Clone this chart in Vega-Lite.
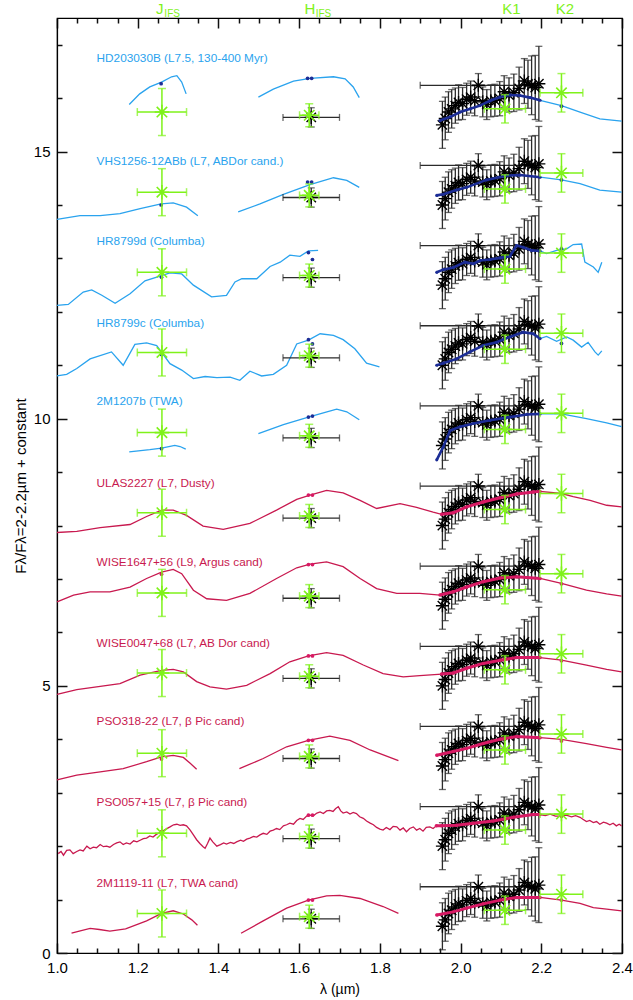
{
  "$schema": "https://vega.github.io/schema/vega-lite/v6.json",
  "width": 565,
  "height": 935,
  "autosize": {"type": "none"},
  "padding": {"left": 57, "top": 18, "right": 11, "bottom": 47},
  "background": "white",
  "config": {
    "view": {"stroke": "#000", "strokeWidth": 1.2},
    "font": "Liberation Sans",
    "text": {"font": "Liberation Sans"},
    "axis": {"grid": false, "labelFont": "Liberation Sans", "titleFont": "Liberation Sans", "domainColor": "#000", "tickColor": "#111", "labelColor": "#000", "titleColor": "#000", "titleFontWeight": "normal", "domainWidth": 1.2, "tickWidth": 1.5}
  },
  "datasets": {
    "model": [
      {"o":"HD","s":"J","g":"c","x":1.179,"y":15.88},{"o":"HD","s":"J","g":"c","x":1.205,"y":16.08},{"o":"HD","s":"J","g":"c","x":1.23,"y":16.21},{"o":"HD","s":"J","g":"c","x":1.259,"y":16.3},{"o":"HD","s":"J","g":"c","x":1.284,"y":16.4},{"o":"HD","s":"J","g":"c","x":1.297,"y":16.42},{"o":"HD","s":"J","g":"c","x":1.309,"y":16.3},{"o":"HD","s":"J","g":"c","x":1.32,"y":16.08},
      {"o":"HD","s":"H","g":"c","x":1.499,"y":16.02},{"o":"HD","s":"H","g":"c","x":1.536,"y":16.17},{"o":"HD","s":"H","g":"c","x":1.586,"y":16.32},{"o":"HD","s":"H","g":"c","x":1.627,"y":16.37},{"o":"HD","s":"H","g":"c","x":1.685,"y":16.4},{"o":"HD","s":"H","g":"c","x":1.714,"y":16.36},{"o":"HD","s":"H","g":"c","x":1.734,"y":16.21},{"o":"HD","s":"H","g":"c","x":1.749,"y":16.01},
      {"o":"HD","s":"K","g":"c","x":1.949,"y":15.58},{"o":"HD","s":"K","g":"c","x":1.975,"y":15.65},{"o":"HD","s":"K","g":"c","x":1.999,"y":15.74},{"o":"HD","s":"K","g":"c","x":2.024,"y":15.8},{"o":"HD","s":"K","g":"c","x":2.048,"y":15.86},{"o":"HD","s":"K","g":"c","x":2.073,"y":15.95},{"o":"HD","s":"K","g":"c","x":2.098,"y":16.02},{"o":"HD","s":"K","g":"c","x":2.122,"y":16.06},{"o":"HD","s":"K","g":"c","x":2.147,"y":16.05},{"o":"HD","s":"K","g":"c","x":2.172,"y":16.01},{"o":"HD","s":"K","g":"c","x":2.197,"y":15.96},{"o":"HD","s":"K","g":"c","x":2.25,"y":15.86},{"o":"HD","s":"K","g":"c","x":2.296,"y":15.74},{"o":"HD","s":"K","g":"c","x":2.345,"y":15.61},{"o":"HD","s":"K","g":"c","x":2.399,"y":15.57},
      {"o":"VHS","s":"J","g":"c","x":1.0,"y":13.73},{"o":"VHS","s":"J","g":"c","x":1.057,"y":13.8},{"o":"VHS","s":"J","g":"c","x":1.107,"y":13.8},{"o":"VHS","s":"J","g":"c","x":1.156,"y":13.84},{"o":"VHS","s":"J","g":"c","x":1.206,"y":13.93},{"o":"VHS","s":"J","g":"c","x":1.258,"y":14.02},{"o":"VHS","s":"J","g":"c","x":1.288,"y":14.04},{"o":"VHS","s":"J","g":"c","x":1.321,"y":13.96},{"o":"VHS","s":"J","g":"c","x":1.349,"y":13.8},
      {"o":"VHS","s":"H","g":"c","x":1.449,"y":13.87},{"o":"VHS","s":"H","g":"c","x":1.503,"y":14.02},{"o":"VHS","s":"H","g":"c","x":1.561,"y":14.2},{"o":"VHS","s":"H","g":"c","x":1.627,"y":14.38},{"o":"VHS","s":"H","g":"c","x":1.685,"y":14.51},{"o":"VHS","s":"H","g":"c","x":1.718,"y":14.46},{"o":"VHS","s":"H","g":"c","x":1.749,"y":14.33},
      {"o":"VHS","s":"K","g":"c","x":1.941,"y":14.18},{"o":"VHS","s":"K","g":"c","x":1.957,"y":14.2},{"o":"VHS","s":"K","g":"c","x":1.99,"y":14.28},{"o":"VHS","s":"K","g":"c","x":2.015,"y":14.33},{"o":"VHS","s":"K","g":"c","x":2.064,"y":14.47},{"o":"VHS","s":"K","g":"c","x":2.114,"y":14.55},{"o":"VHS","s":"K","g":"c","x":2.147,"y":14.56},{"o":"VHS","s":"K","g":"c","x":2.197,"y":14.52},{"o":"VHS","s":"K","g":"c","x":2.25,"y":14.47},{"o":"VHS","s":"K","g":"c","x":2.296,"y":14.4},{"o":"VHS","s":"K","g":"c","x":2.345,"y":14.28},{"o":"VHS","s":"K","g":"c","x":2.399,"y":14.24},
      {"o":"HRd","s":"A","g":"c","x":1.0,"y":12.12},{"o":"HRd","s":"A","g":"c","x":1.028,"y":12.14},{"o":"HRd","s":"A","g":"c","x":1.065,"y":12.37},{"o":"HRd","s":"A","g":"c","x":1.086,"y":12.41},{"o":"HRd","s":"A","g":"c","x":1.111,"y":12.31},{"o":"HRd","s":"A","g":"c","x":1.144,"y":12.16},{"o":"HRd","s":"A","g":"c","x":1.181,"y":12.34},{"o":"HRd","s":"A","g":"c","x":1.218,"y":12.58},{"o":"HRd","s":"A","g":"c","x":1.259,"y":12.68},{"o":"HRd","s":"A","g":"c","x":1.28,"y":12.73},{"o":"HRd","s":"A","g":"c","x":1.309,"y":12.71},{"o":"HRd","s":"A","g":"c","x":1.338,"y":12.5},{"o":"HRd","s":"A","g":"c","x":1.383,"y":12.28},{"o":"HRd","s":"A","g":"c","x":1.42,"y":12.31},{"o":"HRd","s":"A","g":"c","x":1.441,"y":12.56},{"o":"HRd","s":"A","g":"c","x":1.458,"y":12.62},{"o":"HRd","s":"A","g":"c","x":1.495,"y":12.62},{"o":"HRd","s":"A","g":"c","x":1.528,"y":12.85},{"o":"HRd","s":"A","g":"c","x":1.553,"y":12.93},{"o":"HRd","s":"A","g":"c","x":1.577,"y":13.06},{"o":"HRd","s":"A","g":"c","x":1.602,"y":13.04},{"o":"HRd","s":"A","g":"c","x":1.623,"y":13.14},{"o":"HRd","s":"A","g":"c","x":1.647,"y":13.15},
      {"o":"HRd","s":"K","g":"c","x":1.941,"y":12.74},{"o":"HRd","s":"K","g":"c","x":1.957,"y":12.79},{"o":"HRd","s":"K","g":"c","x":1.982,"y":12.83},{"o":"HRd","s":"K","g":"c","x":2.011,"y":12.93},{"o":"HRd","s":"K","g":"c","x":2.032,"y":12.9},{"o":"HRd","s":"K","g":"c","x":2.048,"y":12.96},{"o":"HRd","s":"K","g":"c","x":2.073,"y":12.98},{"o":"HRd","s":"K","g":"c","x":2.098,"y":13.01},{"o":"HRd","s":"K","g":"c","x":2.122,"y":13.04},{"o":"HRd","s":"K","g":"c","x":2.139,"y":13.24},{"o":"HRd","s":"K","g":"c","x":2.155,"y":13.21},{"o":"HRd","s":"K","g":"c","x":2.176,"y":13.15},{"o":"HRd","s":"K","g":"c","x":2.197,"y":13.14},{"o":"HRd","s":"K","g":"c","x":2.213,"y":13.09},{"o":"HRd","s":"K","g":"c","x":2.238,"y":13.15},{"o":"HRd","s":"K","g":"c","x":2.263,"y":13.18},{"o":"HRd","s":"K","g":"c","x":2.279,"y":13.26},{"o":"HRd","s":"K","g":"c","x":2.3,"y":13.27},{"o":"HRd","s":"K","g":"c","x":2.308,"y":12.93},{"o":"HRd","s":"K","g":"c","x":2.329,"y":12.84},{"o":"HRd","s":"K","g":"c","x":2.341,"y":12.74},{"o":"HRd","s":"K","g":"c","x":2.35,"y":12.93},
      {"o":"HRc","s":"A","g":"c","x":1.0,"y":10.8},{"o":"HRc","s":"A","g":"c","x":1.024,"y":10.83},{"o":"HRc","s":"A","g":"c","x":1.049,"y":10.94},{"o":"HRc","s":"A","g":"c","x":1.082,"y":11.12},{"o":"HRc","s":"A","g":"c","x":1.135,"y":11.25},{"o":"HRc","s":"A","g":"c","x":1.164,"y":11.0},{"o":"HRc","s":"A","g":"c","x":1.193,"y":11.39},{"o":"HRc","s":"A","g":"c","x":1.222,"y":11.42},{"o":"HRc","s":"A","g":"c","x":1.247,"y":11.37},{"o":"HRc","s":"A","g":"c","x":1.28,"y":11.03},{"o":"HRc","s":"A","g":"c","x":1.309,"y":10.91},{"o":"HRc","s":"A","g":"c","x":1.338,"y":10.75},{"o":"HRc","s":"A","g":"c","x":1.367,"y":10.79},{"o":"HRc","s":"A","g":"c","x":1.396,"y":10.77},{"o":"HRc","s":"A","g":"c","x":1.429,"y":10.78},{"o":"HRc","s":"A","g":"c","x":1.453,"y":10.72},{"o":"HRc","s":"A","g":"c","x":1.478,"y":10.89},{"o":"HRc","s":"A","g":"c","x":1.507,"y":10.8},{"o":"HRc","s":"A","g":"c","x":1.536,"y":10.83},{"o":"HRc","s":"A","g":"c","x":1.569,"y":11.0},{"o":"HRc","s":"A","g":"c","x":1.594,"y":11.4},{"o":"HRc","s":"A","g":"c","x":1.623,"y":11.47},{"o":"HRc","s":"A","g":"c","x":1.652,"y":11.59},{"o":"HRc","s":"A","g":"c","x":1.685,"y":11.56},{"o":"HRc","s":"A","g":"c","x":1.709,"y":11.48},{"o":"HRc","s":"A","g":"c","x":1.738,"y":11.31},{"o":"HRc","s":"A","g":"c","x":1.767,"y":11.04},{"o":"HRc","s":"A","g":"c","x":1.799,"y":10.97},
      {"o":"HRc","s":"K","g":"c","x":1.941,"y":11.0},{"o":"HRc","s":"K","g":"c","x":1.957,"y":11.04},{"o":"HRc","s":"K","g":"c","x":1.99,"y":11.12},{"o":"HRc","s":"K","g":"c","x":2.023,"y":11.25},{"o":"HRc","s":"K","g":"c","x":2.056,"y":11.37},{"o":"HRc","s":"K","g":"c","x":2.089,"y":11.43},{"o":"HRc","s":"K","g":"c","x":2.122,"y":11.53},{"o":"HRc","s":"K","g":"c","x":2.155,"y":11.62},{"o":"HRc","s":"K","g":"c","x":2.18,"y":11.59},{"o":"HRc","s":"K","g":"c","x":2.197,"y":11.5},{"o":"HRc","s":"K","g":"c","x":2.213,"y":11.54},{"o":"HRc","s":"K","g":"c","x":2.238,"y":11.45},{"o":"HRc","s":"K","g":"c","x":2.263,"y":11.53},{"o":"HRc","s":"K","g":"c","x":2.279,"y":11.47},{"o":"HRc","s":"K","g":"c","x":2.3,"y":11.34},{"o":"HRc","s":"K","g":"c","x":2.316,"y":11.43},{"o":"HRc","s":"K","g":"c","x":2.333,"y":11.25},{"o":"HRc","s":"K","g":"c","x":2.341,"y":11.19},{"o":"HRc","s":"K","g":"c","x":2.35,"y":11.27},
      {"o":"M1207","s":"J","g":"c","x":1.179,"y":9.38},{"o":"M1207","s":"J","g":"c","x":1.23,"y":9.42},{"o":"M1207","s":"J","g":"c","x":1.259,"y":9.45},{"o":"M1207","s":"J","g":"c","x":1.292,"y":9.5},{"o":"M1207","s":"J","g":"c","x":1.305,"y":9.48},{"o":"M1207","s":"J","g":"c","x":1.319,"y":9.43},
      {"o":"M1207","s":"H","g":"c","x":1.499,"y":9.72},{"o":"M1207","s":"H","g":"c","x":1.561,"y":9.89},{"o":"M1207","s":"H","g":"c","x":1.623,"y":10.03},{"o":"M1207","s":"H","g":"c","x":1.66,"y":10.11},{"o":"M1207","s":"H","g":"c","x":1.693,"y":10.18},{"o":"M1207","s":"H","g":"c","x":1.718,"y":10.13},{"o":"M1207","s":"H","g":"c","x":1.749,"y":9.98},
      {"o":"M1207","s":"K","g":"c","x":1.941,"y":9.23},{"o":"M1207","s":"K","g":"c","x":1.957,"y":9.47},{"o":"M1207","s":"K","g":"c","x":1.974,"y":9.78},{"o":"M1207","s":"K","g":"c","x":1.999,"y":9.85},{"o":"M1207","s":"K","g":"c","x":2.032,"y":9.91},{"o":"M1207","s":"K","g":"c","x":2.073,"y":9.97},{"o":"M1207","s":"K","g":"c","x":2.122,"y":10.03},{"o":"M1207","s":"K","g":"c","x":2.164,"y":10.08},{"o":"M1207","s":"K","g":"c","x":2.197,"y":10.09},{"o":"M1207","s":"K","g":"c","x":2.25,"y":10.09},{"o":"M1207","s":"K","g":"c","x":2.312,"y":10.0},{"o":"M1207","s":"K","g":"c","x":2.362,"y":9.92},{"o":"M1207","s":"K","g":"c","x":2.399,"y":9.85},
      {"o":"ULAS","s":"A","g":"f","x":1.0,"y":7.87},{"o":"ULAS","s":"A","g":"f","x":1.049,"y":7.89},{"o":"ULAS","s":"A","g":"f","x":1.107,"y":7.96},{"o":"ULAS","s":"A","g":"f","x":1.181,"y":8.02},{"o":"ULAS","s":"A","g":"f","x":1.222,"y":8.17},{"o":"ULAS","s":"A","g":"f","x":1.259,"y":8.29},{"o":"ULAS","s":"A","g":"f","x":1.288,"y":8.29},{"o":"ULAS","s":"A","g":"f","x":1.321,"y":8.19},{"o":"ULAS","s":"A","g":"f","x":1.362,"y":7.99},{"o":"ULAS","s":"A","g":"f","x":1.412,"y":7.93},{"o":"ULAS","s":"A","g":"f","x":1.478,"y":8.04},{"o":"ULAS","s":"A","g":"f","x":1.544,"y":8.29},{"o":"ULAS","s":"A","g":"f","x":1.594,"y":8.49},{"o":"ULAS","s":"A","g":"f","x":1.627,"y":8.57},{"o":"ULAS","s":"A","g":"f","x":1.668,"y":8.66},{"o":"ULAS","s":"A","g":"f","x":1.709,"y":8.61},{"o":"ULAS","s":"A","g":"f","x":1.751,"y":8.47},{"o":"ULAS","s":"A","g":"f","x":1.792,"y":8.32},{"o":"ULAS","s":"A","g":"f","x":1.85,"y":8.41},{"o":"ULAS","s":"A","g":"f","x":1.891,"y":8.34},{"o":"ULAS","s":"A","g":"f","x":1.932,"y":8.25},{"o":"ULAS","s":"A","g":"f","x":1.953,"y":8.21},{"o":"ULAS","s":"A","g":"f","x":1.982,"y":8.24},{"o":"ULAS","s":"A","g":"f","x":2.015,"y":8.35},{"o":"ULAS","s":"A","g":"f","x":2.056,"y":8.44},{"o":"ULAS","s":"A","g":"f","x":2.098,"y":8.52},{"o":"ULAS","s":"A","g":"f","x":2.139,"y":8.59},{"o":"ULAS","s":"A","g":"f","x":2.18,"y":8.63},{"o":"ULAS","s":"A","g":"f","x":2.197,"y":8.64},{"o":"ULAS","s":"A","g":"f","x":2.25,"y":8.6},{"o":"ULAS","s":"A","g":"f","x":2.279,"y":8.54},{"o":"ULAS","s":"A","g":"f","x":2.321,"y":8.47},{"o":"ULAS","s":"A","g":"f","x":2.362,"y":8.38},{"o":"ULAS","s":"A","g":"f","x":2.399,"y":8.35},
      {"o":"W1647","s":"A","g":"f","x":1.0,"y":6.57},{"o":"W1647","s":"A","g":"f","x":1.041,"y":6.7},{"o":"W1647","s":"A","g":"f","x":1.082,"y":6.76},{"o":"W1647","s":"A","g":"f","x":1.131,"y":6.76},{"o":"W1647","s":"A","g":"f","x":1.181,"y":6.85},{"o":"W1647","s":"A","g":"f","x":1.222,"y":7.01},{"o":"W1647","s":"A","g":"f","x":1.259,"y":7.13},{"o":"W1647","s":"A","g":"f","x":1.288,"y":7.18},{"o":"W1647","s":"A","g":"f","x":1.309,"y":7.1},{"o":"W1647","s":"A","g":"f","x":1.338,"y":6.79},{"o":"W1647","s":"A","g":"f","x":1.371,"y":6.63},{"o":"W1647","s":"A","g":"f","x":1.42,"y":6.6},{"o":"W1647","s":"A","g":"f","x":1.478,"y":6.73},{"o":"W1647","s":"A","g":"f","x":1.544,"y":7.01},{"o":"W1647","s":"A","g":"f","x":1.594,"y":7.21},{"o":"W1647","s":"A","g":"f","x":1.627,"y":7.28},{"o":"W1647","s":"A","g":"f","x":1.668,"y":7.32},{"o":"W1647","s":"A","g":"f","x":1.709,"y":7.23},{"o":"W1647","s":"A","g":"f","x":1.751,"y":7.01},{"o":"W1647","s":"A","g":"f","x":1.792,"y":6.82},{"o":"W1647","s":"A","g":"f","x":1.842,"y":6.73},{"o":"W1647","s":"A","g":"f","x":1.899,"y":6.73},{"o":"W1647","s":"A","g":"f","x":1.949,"y":6.7},{"o":"W1647","s":"A","g":"f","x":1.982,"y":6.76},{"o":"W1647","s":"A","g":"f","x":2.015,"y":6.85},{"o":"W1647","s":"A","g":"f","x":2.056,"y":6.95},{"o":"W1647","s":"A","g":"f","x":2.098,"y":7.02},{"o":"W1647","s":"A","g":"f","x":2.139,"y":7.04},{"o":"W1647","s":"A","g":"f","x":2.197,"y":7.01},{"o":"W1647","s":"A","g":"f","x":2.25,"y":6.92},{"o":"W1647","s":"A","g":"f","x":2.312,"y":6.79},{"o":"W1647","s":"A","g":"f","x":2.362,"y":6.72},{"o":"W1647","s":"A","g":"f","x":2.399,"y":6.68},
      {"o":"W0047","s":"A","g":"f","x":1.0,"y":4.84},{"o":"W0047","s":"A","g":"f","x":1.049,"y":4.93},{"o":"W0047","s":"A","g":"f","x":1.107,"y":4.99},{"o":"W0047","s":"A","g":"f","x":1.156,"y":5.04},{"o":"W0047","s":"A","g":"f","x":1.206,"y":5.2},{"o":"W0047","s":"A","g":"f","x":1.259,"y":5.29},{"o":"W0047","s":"A","g":"f","x":1.288,"y":5.31},{"o":"W0047","s":"A","g":"f","x":1.313,"y":5.26},{"o":"W0047","s":"A","g":"f","x":1.346,"y":5.08},{"o":"W0047","s":"A","g":"f","x":1.379,"y":4.98},{"o":"W0047","s":"A","g":"f","x":1.42,"y":4.94},{"o":"W0047","s":"A","g":"f","x":1.47,"y":5.01},{"o":"W0047","s":"A","g":"f","x":1.528,"y":5.23},{"o":"W0047","s":"A","g":"f","x":1.577,"y":5.45},{"o":"W0047","s":"A","g":"f","x":1.623,"y":5.56},{"o":"W0047","s":"A","g":"f","x":1.668,"y":5.62},{"o":"W0047","s":"A","g":"f","x":1.709,"y":5.57},{"o":"W0047","s":"A","g":"f","x":1.759,"y":5.39},{"o":"W0047","s":"A","g":"f","x":1.808,"y":5.23},{"o":"W0047","s":"A","g":"f","x":1.858,"y":5.17},{"o":"W0047","s":"A","g":"f","x":1.899,"y":5.19},{"o":"W0047","s":"A","g":"f","x":1.953,"y":5.22},{"o":"W0047","s":"A","g":"f","x":1.982,"y":5.24},{"o":"W0047","s":"A","g":"f","x":2.015,"y":5.33},{"o":"W0047","s":"A","g":"f","x":2.056,"y":5.42},{"o":"W0047","s":"A","g":"f","x":2.098,"y":5.48},{"o":"W0047","s":"A","g":"f","x":2.139,"y":5.53},{"o":"W0047","s":"A","g":"f","x":2.197,"y":5.53},{"o":"W0047","s":"A","g":"f","x":2.25,"y":5.48},{"o":"W0047","s":"A","g":"f","x":2.312,"y":5.39},{"o":"W0047","s":"A","g":"f","x":2.362,"y":5.31},{"o":"W0047","s":"A","g":"f","x":2.399,"y":5.26},
      {"o":"P318","s":"J","g":"f","x":1.0,"y":3.24},{"o":"P318","s":"J","g":"f","x":1.049,"y":3.33},{"o":"P318","s":"J","g":"f","x":1.107,"y":3.39},{"o":"P318","s":"J","g":"f","x":1.164,"y":3.45},{"o":"P318","s":"J","g":"f","x":1.222,"y":3.58},{"o":"P318","s":"J","g":"f","x":1.259,"y":3.67},{"o":"P318","s":"J","g":"f","x":1.288,"y":3.7},{"o":"P318","s":"J","g":"f","x":1.313,"y":3.66},{"o":"P318","s":"J","g":"f","x":1.33,"y":3.55},{"o":"P318","s":"J","g":"f","x":1.346,"y":3.44},
      {"o":"P318","s":"H","g":"f","x":1.452,"y":3.45},{"o":"P318","s":"H","g":"f","x":1.511,"y":3.64},{"o":"P318","s":"H","g":"f","x":1.569,"y":3.86},{"o":"P318","s":"H","g":"f","x":1.623,"y":3.98},{"o":"P318","s":"H","g":"f","x":1.676,"y":4.06},{"o":"P318","s":"H","g":"f","x":1.726,"y":3.98},{"o":"P318","s":"H","g":"f","x":1.776,"y":3.8},{"o":"P318","s":"H","g":"f","x":1.846,"y":3.6},
      {"o":"P318","s":"K","g":"f","x":1.941,"y":3.7},{"o":"P318","s":"K","g":"f","x":1.982,"y":3.77},{"o":"P318","s":"K","g":"f","x":2.015,"y":3.83},{"o":"P318","s":"K","g":"f","x":2.056,"y":3.92},{"o":"P318","s":"K","g":"f","x":2.098,"y":4.0},{"o":"P318","s":"K","g":"f","x":2.139,"y":4.05},{"o":"P318","s":"K","g":"f","x":2.197,"y":4.03},{"o":"P318","s":"K","g":"f","x":2.25,"y":4.0},{"o":"P318","s":"K","g":"f","x":2.312,"y":3.92},{"o":"P318","s":"K","g":"f","x":2.362,"y":3.85},{"o":"P318","s":"K","g":"f","x":2.399,"y":3.8},
      {"o":"P057","s":"A","g":"f","x":1.003,"y":1.86},{"o":"P057","s":"A","g":"f","x":1.01,"y":1.9},{"o":"P057","s":"A","g":"f","x":1.016,"y":1.83},{"o":"P057","s":"A","g":"f","x":1.024,"y":1.92},{"o":"P057","s":"A","g":"f","x":1.032,"y":1.93},{"o":"P057","s":"A","g":"f","x":1.04,"y":1.86},{"o":"P057","s":"A","g":"f","x":1.049,"y":1.9},{"o":"P057","s":"A","g":"f","x":1.057,"y":1.93},{"o":"P057","s":"A","g":"f","x":1.065,"y":1.91},{"o":"P057","s":"A","g":"f","x":1.074,"y":2.0},{"o":"P057","s":"A","g":"f","x":1.082,"y":1.95},{"o":"P057","s":"A","g":"f","x":1.09,"y":1.98},{"o":"P057","s":"A","g":"f","x":1.098,"y":1.97},{"o":"P057","s":"A","g":"f","x":1.107,"y":2.03},{"o":"P057","s":"A","g":"f","x":1.115,"y":1.99},{"o":"P057","s":"A","g":"f","x":1.123,"y":2.0},{"o":"P057","s":"A","g":"f","x":1.131,"y":1.98},{"o":"P057","s":"A","g":"f","x":1.14,"y":2.03},{"o":"P057","s":"A","g":"f","x":1.148,"y":2.06},{"o":"P057","s":"A","g":"f","x":1.156,"y":2.08},{"o":"P057","s":"A","g":"f","x":1.164,"y":2.03},{"o":"P057","s":"A","g":"f","x":1.172,"y":2.06},{"o":"P057","s":"A","g":"f","x":1.181,"y":2.04},{"o":"P057","s":"A","g":"f","x":1.19,"y":2.1},{"o":"P057","s":"A","g":"f","x":1.198,"y":2.08},{"o":"P057","s":"A","g":"f","x":1.206,"y":2.11},{"o":"P057","s":"A","g":"f","x":1.214,"y":2.14},{"o":"P057","s":"A","g":"f","x":1.222,"y":2.15},{"o":"P057","s":"A","g":"f","x":1.23,"y":2.19},{"o":"P057","s":"A","g":"f","x":1.238,"y":2.17},{"o":"P057","s":"A","g":"f","x":1.246,"y":2.22},{"o":"P057","s":"A","g":"f","x":1.259,"y":2.27},{"o":"P057","s":"A","g":"f","x":1.268,"y":2.31},{"o":"P057","s":"A","g":"f","x":1.28,"y":2.36},{"o":"P057","s":"A","g":"f","x":1.289,"y":2.4},{"o":"P057","s":"A","g":"f","x":1.297,"y":2.41},{"o":"P057","s":"A","g":"f","x":1.305,"y":2.39},{"o":"P057","s":"A","g":"f","x":1.313,"y":2.4},{"o":"P057","s":"A","g":"f","x":1.321,"y":2.38},{"o":"P057","s":"A","g":"f","x":1.33,"y":2.3},{"o":"P057","s":"A","g":"f","x":1.338,"y":2.21},{"o":"P057","s":"A","g":"f","x":1.346,"y":2.12},{"o":"P057","s":"A","g":"f","x":1.354,"y":2.05},{"o":"P057","s":"A","g":"f","x":1.362,"y":1.99},{"o":"P057","s":"A","g":"f","x":1.367,"y":1.96},{"o":"P057","s":"A","g":"f","x":1.373,"y":2.05},{"o":"P057","s":"A","g":"f","x":1.379,"y":2.15},{"o":"P057","s":"A","g":"f","x":1.386,"y":2.08},{"o":"P057","s":"A","g":"f","x":1.396,"y":2.0},{"o":"P057","s":"A","g":"f","x":1.405,"y":2.03},{"o":"P057","s":"A","g":"f","x":1.413,"y":2.06},{"o":"P057","s":"A","g":"f","x":1.42,"y":2.04},{"o":"P057","s":"A","g":"f","x":1.43,"y":2.07},{"o":"P057","s":"A","g":"f","x":1.438,"y":2.05},{"o":"P057","s":"A","g":"f","x":1.445,"y":2.08},{"o":"P057","s":"A","g":"f","x":1.455,"y":2.11},{"o":"P057","s":"A","g":"f","x":1.462,"y":2.09},{"o":"P057","s":"A","g":"f","x":1.47,"y":2.13},{"o":"P057","s":"A","g":"f","x":1.478,"y":2.15},{"o":"P057","s":"A","g":"f","x":1.487,"y":2.18},{"o":"P057","s":"A","g":"f","x":1.495,"y":2.17},{"o":"P057","s":"A","g":"f","x":1.503,"y":2.21},{"o":"P057","s":"A","g":"f","x":1.511,"y":2.24},{"o":"P057","s":"A","g":"f","x":1.52,"y":2.22},{"o":"P057","s":"A","g":"f","x":1.528,"y":2.28},{"o":"P057","s":"A","g":"f","x":1.536,"y":2.3},{"o":"P057","s":"A","g":"f","x":1.544,"y":2.33},{"o":"P057","s":"A","g":"f","x":1.552,"y":2.31},{"o":"P057","s":"A","g":"f","x":1.561,"y":2.38},{"o":"P057","s":"A","g":"f","x":1.569,"y":2.4},{"o":"P057","s":"A","g":"f","x":1.577,"y":2.43},{"o":"P057","s":"A","g":"f","x":1.586,"y":2.41},{"o":"P057","s":"A","g":"f","x":1.594,"y":2.48},{"o":"P057","s":"A","g":"f","x":1.602,"y":2.52},{"o":"P057","s":"A","g":"f","x":1.61,"y":2.5},{"o":"P057","s":"A","g":"f","x":1.618,"y":2.56},{"o":"P057","s":"A","g":"f","x":1.627,"y":2.58},{"o":"P057","s":"A","g":"f","x":1.635,"y":2.57},{"o":"P057","s":"A","g":"f","x":1.644,"y":2.62},{"o":"P057","s":"A","g":"f","x":1.652,"y":2.64},{"o":"P057","s":"A","g":"f","x":1.66,"y":2.61},{"o":"P057","s":"A","g":"f","x":1.668,"y":2.66},{"o":"P057","s":"A","g":"f","x":1.676,"y":2.67},{"o":"P057","s":"A","g":"f","x":1.684,"y":2.65},{"o":"P057","s":"A","g":"f","x":1.69,"y":2.7},{"o":"P057","s":"A","g":"f","x":1.697,"y":2.74},{"o":"P057","s":"A","g":"f","x":1.703,"y":2.66},{"o":"P057","s":"A","g":"f","x":1.709,"y":2.62},{"o":"P057","s":"A","g":"f","x":1.718,"y":2.64},{"o":"P057","s":"A","g":"f","x":1.726,"y":2.6},{"o":"P057","s":"A","g":"f","x":1.734,"y":2.63},{"o":"P057","s":"A","g":"f","x":1.742,"y":2.61},{"o":"P057","s":"A","g":"f","x":1.75,"y":2.55},{"o":"P057","s":"A","g":"f","x":1.759,"y":2.52},{"o":"P057","s":"A","g":"f","x":1.767,"y":2.47},{"o":"P057","s":"A","g":"f","x":1.776,"y":2.43},{"o":"P057","s":"A","g":"f","x":1.784,"y":2.4},{"o":"P057","s":"A","g":"f","x":1.792,"y":2.35},{"o":"P057","s":"A","g":"f","x":1.8,"y":2.32},{"o":"P057","s":"A","g":"f","x":1.808,"y":2.3},{"o":"P057","s":"A","g":"f","x":1.816,"y":2.35},{"o":"P057","s":"A","g":"f","x":1.825,"y":2.31},{"o":"P057","s":"A","g":"f","x":1.833,"y":2.37},{"o":"P057","s":"A","g":"f","x":1.842,"y":2.36},{"o":"P057","s":"A","g":"f","x":1.85,"y":2.3},{"o":"P057","s":"A","g":"f","x":1.858,"y":2.34},{"o":"P057","s":"A","g":"f","x":1.866,"y":2.27},{"o":"P057","s":"A","g":"f","x":1.874,"y":2.33},{"o":"P057","s":"A","g":"f","x":1.883,"y":2.36},{"o":"P057","s":"A","g":"f","x":1.891,"y":2.3},{"o":"P057","s":"A","g":"f","x":1.899,"y":2.33},{"o":"P057","s":"A","g":"f","x":1.907,"y":2.28},{"o":"P057","s":"A","g":"f","x":1.915,"y":2.35},{"o":"P057","s":"A","g":"f","x":1.924,"y":2.36},{"o":"P057","s":"A","g":"f","x":1.932,"y":2.33},{"o":"P057","s":"A","g":"f","x":1.94,"y":2.38},{"o":"P057","s":"A","g":"f","x":1.953,"y":2.38},{"o":"P057","s":"A","g":"f","x":1.99,"y":2.39},{"o":"P057","s":"A","g":"f","x":2.032,"y":2.43},{"o":"P057","s":"A","g":"f","x":2.081,"y":2.47},{"o":"P057","s":"A","g":"f","x":2.131,"y":2.54},{"o":"P057","s":"A","g":"f","x":2.18,"y":2.59},{"o":"P057","s":"A","g":"f","x":2.197,"y":2.59},{"o":"P057","s":"A","g":"f","x":2.21,"y":2.57},{"o":"P057","s":"A","g":"f","x":2.222,"y":2.6},{"o":"P057","s":"A","g":"f","x":2.235,"y":2.56},{"o":"P057","s":"A","g":"f","x":2.25,"y":2.56},{"o":"P057","s":"A","g":"f","x":2.262,"y":2.58},{"o":"P057","s":"A","g":"f","x":2.275,"y":2.55},{"o":"P057","s":"A","g":"f","x":2.285,"y":2.57},{"o":"P057","s":"A","g":"f","x":2.296,"y":2.54},{"o":"P057","s":"A","g":"f","x":2.304,"y":2.5},{"o":"P057","s":"A","g":"f","x":2.312,"y":2.46},{"o":"P057","s":"A","g":"f","x":2.32,"y":2.48},{"o":"P057","s":"A","g":"f","x":2.329,"y":2.44},{"o":"P057","s":"A","g":"f","x":2.337,"y":2.46},{"o":"P057","s":"A","g":"f","x":2.345,"y":2.41},{"o":"P057","s":"A","g":"f","x":2.354,"y":2.45},{"o":"P057","s":"A","g":"f","x":2.362,"y":2.43},{"o":"P057","s":"A","g":"f","x":2.37,"y":2.4},{"o":"P057","s":"A","g":"f","x":2.378,"y":2.43},{"o":"P057","s":"A","g":"f","x":2.386,"y":2.38},{"o":"P057","s":"A","g":"f","x":2.393,"y":2.41},{"o":"P057","s":"A","g":"f","x":2.399,"y":2.38},
      {"o":"M1119","s":"J","g":"f","x":1.036,"y":0.37},{"o":"M1119","s":"J","g":"f","x":1.06,"y":0.42},{"o":"M1119","s":"J","g":"f","x":1.082,"y":0.46},{"o":"M1119","s":"J","g":"f","x":1.105,"y":0.44},{"o":"M1119","s":"J","g":"f","x":1.131,"y":0.41},{"o":"M1119","s":"J","g":"f","x":1.17,"y":0.45},{"o":"M1119","s":"J","g":"f","x":1.222,"y":0.6},{"o":"M1119","s":"J","g":"f","x":1.259,"y":0.74},{"o":"M1119","s":"J","g":"f","x":1.288,"y":0.79},{"o":"M1119","s":"J","g":"f","x":1.313,"y":0.73},{"o":"M1119","s":"J","g":"f","x":1.334,"y":0.62},{"o":"M1119","s":"J","g":"f","x":1.348,"y":0.52},
      {"o":"M1119","s":"H","g":"f","x":1.456,"y":0.37},{"o":"M1119","s":"H","g":"f","x":1.511,"y":0.6},{"o":"M1119","s":"H","g":"f","x":1.569,"y":0.84},{"o":"M1119","s":"H","g":"f","x":1.623,"y":0.99},{"o":"M1119","s":"H","g":"f","x":1.668,"y":1.07},{"o":"M1119","s":"H","g":"f","x":1.701,"y":1.08},{"o":"M1119","s":"H","g":"f","x":1.751,"y":1.02},{"o":"M1119","s":"H","g":"f","x":1.808,"y":0.87},{"o":"M1119","s":"H","g":"f","x":1.846,"y":0.74},
      {"o":"M1119","s":"K","g":"f","x":1.941,"y":0.71},{"o":"M1119","s":"K","g":"f","x":1.982,"y":0.77},{"o":"M1119","s":"K","g":"f","x":2.015,"y":0.84},{"o":"M1119","s":"K","g":"f","x":2.056,"y":0.92},{"o":"M1119","s":"K","g":"f","x":2.098,"y":0.99},{"o":"M1119","s":"K","g":"f","x":2.139,"y":1.04},{"o":"M1119","s":"K","g":"f","x":2.197,"y":1.04},{"o":"M1119","s":"K","g":"f","x":2.25,"y":0.99},{"o":"M1119","s":"K","g":"f","x":2.296,"y":0.93},{"o":"M1119","s":"K","g":"f","x":2.329,"y":0.85},{"o":"M1119","s":"K","g":"f","x":2.362,"y":0.82},{"o":"M1119","s":"K","g":"f","x":2.399,"y":0.79}
    ],
    "syn": [
      {"g":"c","x":1.258,"y":16.27},{"g":"c","x":1.621,"y":16.37},{"g":"c","x":1.631,"y":16.37},{"g":"c","x":2.25,"y":15.85},
      {"g":"c","x":1.258,"y":14.0},{"g":"c","x":1.621,"y":14.43},{"g":"c","x":1.631,"y":14.43},{"g":"c","x":2.25,"y":14.47},
      {"g":"c","x":1.259,"y":12.65},{"g":"c","x":1.623,"y":13.11},{"g":"c","x":1.633,"y":12.98},{"g":"c","x":2.25,"y":13.18},
      {"g":"c","x":1.259,"y":11.2},{"g":"c","x":1.623,"y":11.48},{"g":"c","x":1.633,"y":11.4},{"g":"c","x":2.25,"y":11.41},
      {"g":"c","x":1.259,"y":9.44},{"g":"c","x":1.623,"y":10.03},{"g":"c","x":1.633,"y":10.05},{"g":"c","x":2.25,"y":10.09},
      {"g":"f","x":1.259,"y":8.25},{"g":"f","x":1.623,"y":8.57},{"g":"f","x":1.633,"y":8.57},{"g":"f","x":2.25,"y":8.6},
      {"g":"f","x":1.259,"y":7.09},{"g":"f","x":1.623,"y":7.27},{"g":"f","x":1.633,"y":7.27},{"g":"f","x":2.25,"y":6.91},
      {"g":"f","x":1.259,"y":5.23},{"g":"f","x":1.623,"y":5.56},{"g":"f","x":1.633,"y":5.56},{"g":"f","x":2.25,"y":5.47},
      {"g":"f","x":1.259,"y":3.63},{"g":"f","x":1.623,"y":3.98},{"g":"f","x":1.633,"y":3.98},{"g":"f","x":2.25,"y":3.97},
      {"g":"f","x":1.259,"y":2.27},{"g":"f","x":1.623,"y":2.58},{"g":"f","x":1.633,"y":2.58},{"g":"f","x":2.25,"y":2.56},
      {"g":"f","x":1.259,"y":0.72},{"g":"f","x":1.623,"y":0.99},{"g":"f","x":1.633,"y":0.99},{"g":"f","x":2.25,"y":0.99}
    ],
    "green": [
      {"x":1.26,"y":15.74,"ex":0.061,"ey":0.44},{"x":1.625,"y":15.68,"ex":0.024,"ey":0.215},{"x":2.11,"y":15.8,"ex":0.051,"ey":0.265},{"x":2.25,"y":16.1,"ex":0.053,"ey":0.36},
      {"x":1.26,"y":14.24,"ex":0.061,"ey":0.44},{"x":1.625,"y":14.18,"ex":0.024,"ey":0.215},{"x":2.11,"y":14.3,"ex":0.051,"ey":0.265},{"x":2.25,"y":14.6,"ex":0.053,"ey":0.36},
      {"x":1.26,"y":12.74,"ex":0.061,"ey":0.44},{"x":1.625,"y":12.68,"ex":0.024,"ey":0.215},{"x":2.11,"y":12.8,"ex":0.051,"ey":0.265},{"x":2.25,"y":13.1,"ex":0.053,"ey":0.36},
      {"x":1.26,"y":11.24,"ex":0.061,"ey":0.44},{"x":1.625,"y":11.18,"ex":0.024,"ey":0.215},{"x":2.11,"y":11.3,"ex":0.051,"ey":0.265},{"x":2.25,"y":11.6,"ex":0.053,"ey":0.36},
      {"x":1.26,"y":9.74,"ex":0.061,"ey":0.44},{"x":1.625,"y":9.68,"ex":0.024,"ey":0.215},{"x":2.11,"y":9.8,"ex":0.051,"ey":0.265},{"x":2.25,"y":10.1,"ex":0.053,"ey":0.36},
      {"x":1.26,"y":8.24,"ex":0.061,"ey":0.44},{"x":1.625,"y":8.18,"ex":0.024,"ey":0.215},{"x":2.11,"y":8.3,"ex":0.051,"ey":0.265},{"x":2.25,"y":8.6,"ex":0.053,"ey":0.36},
      {"x":1.26,"y":6.74,"ex":0.061,"ey":0.44},{"x":1.625,"y":6.68,"ex":0.024,"ey":0.215},{"x":2.11,"y":6.8,"ex":0.051,"ey":0.265},{"x":2.25,"y":7.1,"ex":0.053,"ey":0.36},
      {"x":1.26,"y":5.24,"ex":0.061,"ey":0.44},{"x":1.625,"y":5.18,"ex":0.024,"ey":0.215},{"x":2.11,"y":5.3,"ex":0.051,"ey":0.265},{"x":2.25,"y":5.6,"ex":0.053,"ey":0.36},
      {"x":1.26,"y":3.74,"ex":0.061,"ey":0.44},{"x":1.625,"y":3.68,"ex":0.024,"ey":0.215},{"x":2.11,"y":3.8,"ex":0.051,"ey":0.265},{"x":2.25,"y":4.1,"ex":0.053,"ey":0.36},
      {"x":1.26,"y":2.24,"ex":0.061,"ey":0.44},{"x":1.625,"y":2.18,"ex":0.024,"ey":0.215},{"x":2.11,"y":2.3,"ex":0.051,"ey":0.265},{"x":2.25,"y":2.6,"ex":0.053,"ey":0.36},
      {"x":1.26,"y":0.74,"ex":0.061,"ey":0.44},{"x":1.625,"y":0.68,"ex":0.024,"ey":0.215},{"x":2.11,"y":0.8,"ex":0.051,"ey":0.265},{"x":2.25,"y":1.1,"ex":0.053,"ey":0.36}
    ],
    "blackx": [
      {"x":1.63,"y":15.64,"ex":0.07},{"x":2.045,"y":16.24,"ex":0.145},
      {"x":1.63,"y":14.14,"ex":0.07},{"x":2.045,"y":14.74,"ex":0.145},
      {"x":1.63,"y":12.64,"ex":0.07},{"x":2.045,"y":13.24,"ex":0.145},
      {"x":1.63,"y":11.14,"ex":0.07},{"x":2.045,"y":11.74,"ex":0.145},
      {"x":1.63,"y":9.64,"ex":0.07},{"x":2.045,"y":10.24,"ex":0.145},
      {"x":1.63,"y":8.14,"ex":0.07},{"x":2.045,"y":8.74,"ex":0.145},
      {"x":1.63,"y":6.64,"ex":0.07},{"x":2.045,"y":7.24,"ex":0.145},
      {"x":1.63,"y":5.14,"ex":0.07},{"x":2.045,"y":5.74,"ex":0.145},
      {"x":1.63,"y":3.64,"ex":0.07},{"x":2.045,"y":4.24,"ex":0.145},
      {"x":1.63,"y":2.14,"ex":0.07},{"x":2.045,"y":2.74,"ex":0.145},
      {"x":1.63,"y":0.64,"ex":0.07},{"x":2.045,"y":1.24,"ex":0.145}
    ],
    "blk": [
      {"x":1.63,"y":0.64,"e":0.18},{"x":1.955,"y":0.5,"e":0.44},{"x":1.962,"y":0.62,"e":0.4},{"x":1.97,"y":0.74,"e":0.38},{"x":1.978,"y":0.8,"e":0.36},{"x":1.987,"y":0.86,"e":0.33},{"x":1.995,"y":0.92,"e":0.33},{"x":2.005,"y":0.9,"e":0.3},{"x":2.015,"y":0.98,"e":0.3},{"x":2.025,"y":1.02,"e":0.3},{"x":2.035,"y":0.95,"e":0.28},{"x":2.044,"y":1.24,"e":0.22},{"x":2.055,"y":0.93,"e":0.28},{"x":2.065,"y":0.88,"e":0.28},{"x":2.075,"y":0.95,"e":0.3},{"x":2.085,"y":0.96,"e":0.3},{"x":2.097,"y":0.99,"e":0.32},{"x":2.108,"y":1.12,"e":0.3},{"x":2.12,"y":1.06,"e":0.32},{"x":2.132,"y":1.1,"e":0.35},{"x":2.145,"y":1.18,"e":0.4},{"x":2.158,"y":1.32,"e":0.42},{"x":2.167,"y":1.26,"e":0.45},{"x":2.176,"y":1.24,"e":0.55},{"x":2.185,"y":1.2,"e":0.6},{"x":2.194,"y":1.27,"e":0.7},
      {"x":1.63,"y":2.14,"e":0.18},{"x":1.955,"y":2.0,"e":0.44},{"x":1.962,"y":2.12,"e":0.4},{"x":1.97,"y":2.24,"e":0.38},{"x":1.978,"y":2.3,"e":0.36},{"x":1.987,"y":2.36,"e":0.33},{"x":1.995,"y":2.42,"e":0.33},{"x":2.005,"y":2.4,"e":0.3},{"x":2.015,"y":2.48,"e":0.3},{"x":2.025,"y":2.52,"e":0.3},{"x":2.035,"y":2.45,"e":0.28},{"x":2.044,"y":2.74,"e":0.22},{"x":2.055,"y":2.43,"e":0.28},{"x":2.065,"y":2.38,"e":0.28},{"x":2.075,"y":2.45,"e":0.3},{"x":2.085,"y":2.46,"e":0.3},{"x":2.097,"y":2.49,"e":0.32},{"x":2.108,"y":2.62,"e":0.3},{"x":2.12,"y":2.56,"e":0.32},{"x":2.132,"y":2.6,"e":0.35},{"x":2.145,"y":2.68,"e":0.4},{"x":2.158,"y":2.82,"e":0.42},{"x":2.167,"y":2.76,"e":0.45},{"x":2.176,"y":2.74,"e":0.55},{"x":2.185,"y":2.7,"e":0.6},{"x":2.194,"y":2.77,"e":0.7},
      {"x":1.63,"y":3.64,"e":0.18},{"x":1.955,"y":3.5,"e":0.44},{"x":1.962,"y":3.62,"e":0.4},{"x":1.97,"y":3.74,"e":0.38},{"x":1.978,"y":3.8,"e":0.36},{"x":1.987,"y":3.86,"e":0.33},{"x":1.995,"y":3.92,"e":0.33},{"x":2.005,"y":3.9,"e":0.3},{"x":2.015,"y":3.98,"e":0.3},{"x":2.025,"y":4.02,"e":0.3},{"x":2.035,"y":3.95,"e":0.28},{"x":2.044,"y":4.24,"e":0.22},{"x":2.055,"y":3.93,"e":0.28},{"x":2.065,"y":3.88,"e":0.28},{"x":2.075,"y":3.95,"e":0.3},{"x":2.085,"y":3.96,"e":0.3},{"x":2.097,"y":3.99,"e":0.32},{"x":2.108,"y":4.12,"e":0.3},{"x":2.12,"y":4.06,"e":0.32},{"x":2.132,"y":4.1,"e":0.35},{"x":2.145,"y":4.18,"e":0.4},{"x":2.158,"y":4.32,"e":0.42},{"x":2.167,"y":4.26,"e":0.45},{"x":2.176,"y":4.24,"e":0.55},{"x":2.185,"y":4.2,"e":0.6},{"x":2.194,"y":4.27,"e":0.7},
      {"x":1.63,"y":5.14,"e":0.18},{"x":1.955,"y":5.0,"e":0.44},{"x":1.962,"y":5.12,"e":0.4},{"x":1.97,"y":5.24,"e":0.38},{"x":1.978,"y":5.3,"e":0.36},{"x":1.987,"y":5.36,"e":0.33},{"x":1.995,"y":5.42,"e":0.33},{"x":2.005,"y":5.4,"e":0.3},{"x":2.015,"y":5.48,"e":0.3},{"x":2.025,"y":5.52,"e":0.3},{"x":2.035,"y":5.45,"e":0.28},{"x":2.044,"y":5.74,"e":0.22},{"x":2.055,"y":5.43,"e":0.28},{"x":2.065,"y":5.38,"e":0.28},{"x":2.075,"y":5.45,"e":0.3},{"x":2.085,"y":5.46,"e":0.3},{"x":2.097,"y":5.49,"e":0.32},{"x":2.108,"y":5.62,"e":0.3},{"x":2.12,"y":5.56,"e":0.32},{"x":2.132,"y":5.6,"e":0.35},{"x":2.145,"y":5.68,"e":0.4},{"x":2.158,"y":5.82,"e":0.42},{"x":2.167,"y":5.76,"e":0.45},{"x":2.176,"y":5.74,"e":0.55},{"x":2.185,"y":5.7,"e":0.6},{"x":2.194,"y":5.77,"e":0.7},
      {"x":1.63,"y":6.64,"e":0.18},{"x":1.955,"y":6.5,"e":0.44},{"x":1.962,"y":6.62,"e":0.4},{"x":1.97,"y":6.74,"e":0.38},{"x":1.978,"y":6.8,"e":0.36},{"x":1.987,"y":6.86,"e":0.33},{"x":1.995,"y":6.92,"e":0.33},{"x":2.005,"y":6.9,"e":0.3},{"x":2.015,"y":6.98,"e":0.3},{"x":2.025,"y":7.02,"e":0.3},{"x":2.035,"y":6.95,"e":0.28},{"x":2.044,"y":7.24,"e":0.22},{"x":2.055,"y":6.93,"e":0.28},{"x":2.065,"y":6.88,"e":0.28},{"x":2.075,"y":6.95,"e":0.3},{"x":2.085,"y":6.96,"e":0.3},{"x":2.097,"y":6.99,"e":0.32},{"x":2.108,"y":7.12,"e":0.3},{"x":2.12,"y":7.06,"e":0.32},{"x":2.132,"y":7.1,"e":0.35},{"x":2.145,"y":7.18,"e":0.4},{"x":2.158,"y":7.32,"e":0.42},{"x":2.167,"y":7.26,"e":0.45},{"x":2.176,"y":7.24,"e":0.55},{"x":2.185,"y":7.2,"e":0.6},{"x":2.194,"y":7.27,"e":0.7},
      {"x":1.63,"y":8.14,"e":0.18},{"x":1.955,"y":8.0,"e":0.44},{"x":1.962,"y":8.12,"e":0.4},{"x":1.97,"y":8.24,"e":0.38},{"x":1.978,"y":8.3,"e":0.36},{"x":1.987,"y":8.36,"e":0.33},{"x":1.995,"y":8.42,"e":0.33},{"x":2.005,"y":8.4,"e":0.3},{"x":2.015,"y":8.48,"e":0.3},{"x":2.025,"y":8.52,"e":0.3},{"x":2.035,"y":8.45,"e":0.28},{"x":2.044,"y":8.74,"e":0.22},{"x":2.055,"y":8.43,"e":0.28},{"x":2.065,"y":8.38,"e":0.28},{"x":2.075,"y":8.45,"e":0.3},{"x":2.085,"y":8.46,"e":0.3},{"x":2.097,"y":8.49,"e":0.32},{"x":2.108,"y":8.62,"e":0.3},{"x":2.12,"y":8.56,"e":0.32},{"x":2.132,"y":8.6,"e":0.35},{"x":2.145,"y":8.68,"e":0.4},{"x":2.158,"y":8.82,"e":0.42},{"x":2.167,"y":8.76,"e":0.45},{"x":2.176,"y":8.74,"e":0.55},{"x":2.185,"y":8.7,"e":0.6},{"x":2.194,"y":8.77,"e":0.7},
      {"x":1.63,"y":9.64,"e":0.18},{"x":1.955,"y":9.5,"e":0.44},{"x":1.962,"y":9.62,"e":0.4},{"x":1.97,"y":9.74,"e":0.38},{"x":1.978,"y":9.8,"e":0.36},{"x":1.987,"y":9.86,"e":0.33},{"x":1.995,"y":9.92,"e":0.33},{"x":2.005,"y":9.9,"e":0.3},{"x":2.015,"y":9.98,"e":0.3},{"x":2.025,"y":10.02,"e":0.3},{"x":2.035,"y":9.95,"e":0.28},{"x":2.044,"y":10.24,"e":0.22},{"x":2.055,"y":9.93,"e":0.28},{"x":2.065,"y":9.88,"e":0.28},{"x":2.075,"y":9.95,"e":0.3},{"x":2.085,"y":9.96,"e":0.3},{"x":2.097,"y":9.99,"e":0.32},{"x":2.108,"y":10.12,"e":0.3},{"x":2.12,"y":10.06,"e":0.32},{"x":2.132,"y":10.1,"e":0.35},{"x":2.145,"y":10.18,"e":0.4},{"x":2.158,"y":10.32,"e":0.42},{"x":2.167,"y":10.26,"e":0.45},{"x":2.176,"y":10.24,"e":0.55},{"x":2.185,"y":10.2,"e":0.6},{"x":2.194,"y":10.27,"e":0.7},
      {"x":1.63,"y":11.14,"e":0.18},{"x":1.955,"y":11.0,"e":0.44},{"x":1.962,"y":11.12,"e":0.4},{"x":1.97,"y":11.24,"e":0.38},{"x":1.978,"y":11.3,"e":0.36},{"x":1.987,"y":11.36,"e":0.33},{"x":1.995,"y":11.42,"e":0.33},{"x":2.005,"y":11.4,"e":0.3},{"x":2.015,"y":11.48,"e":0.3},{"x":2.025,"y":11.52,"e":0.3},{"x":2.035,"y":11.45,"e":0.28},{"x":2.044,"y":11.74,"e":0.22},{"x":2.055,"y":11.43,"e":0.28},{"x":2.065,"y":11.38,"e":0.28},{"x":2.075,"y":11.45,"e":0.3},{"x":2.085,"y":11.46,"e":0.3},{"x":2.097,"y":11.49,"e":0.32},{"x":2.108,"y":11.62,"e":0.3},{"x":2.12,"y":11.56,"e":0.32},{"x":2.132,"y":11.6,"e":0.35},{"x":2.145,"y":11.68,"e":0.4},{"x":2.158,"y":11.82,"e":0.42},{"x":2.167,"y":11.76,"e":0.45},{"x":2.176,"y":11.74,"e":0.55},{"x":2.185,"y":11.7,"e":0.6},{"x":2.194,"y":11.77,"e":0.7},
      {"x":1.63,"y":12.64,"e":0.18},{"x":1.955,"y":12.5,"e":0.44},{"x":1.962,"y":12.62,"e":0.4},{"x":1.97,"y":12.74,"e":0.38},{"x":1.978,"y":12.8,"e":0.36},{"x":1.987,"y":12.86,"e":0.33},{"x":1.995,"y":12.92,"e":0.33},{"x":2.005,"y":12.9,"e":0.3},{"x":2.015,"y":12.98,"e":0.3},{"x":2.025,"y":13.02,"e":0.3},{"x":2.035,"y":12.95,"e":0.28},{"x":2.044,"y":13.24,"e":0.22},{"x":2.055,"y":12.93,"e":0.28},{"x":2.065,"y":12.88,"e":0.28},{"x":2.075,"y":12.95,"e":0.3},{"x":2.085,"y":12.96,"e":0.3},{"x":2.097,"y":12.99,"e":0.32},{"x":2.108,"y":13.12,"e":0.3},{"x":2.12,"y":13.06,"e":0.32},{"x":2.132,"y":13.1,"e":0.35},{"x":2.145,"y":13.18,"e":0.4},{"x":2.158,"y":13.32,"e":0.42},{"x":2.167,"y":13.26,"e":0.45},{"x":2.176,"y":13.24,"e":0.55},{"x":2.185,"y":13.2,"e":0.6},{"x":2.194,"y":13.27,"e":0.7},
      {"x":1.63,"y":14.14,"e":0.18},{"x":1.955,"y":14.0,"e":0.44},{"x":1.962,"y":14.12,"e":0.4},{"x":1.97,"y":14.24,"e":0.38},{"x":1.978,"y":14.3,"e":0.36},{"x":1.987,"y":14.36,"e":0.33},{"x":1.995,"y":14.42,"e":0.33},{"x":2.005,"y":14.4,"e":0.3},{"x":2.015,"y":14.48,"e":0.3},{"x":2.025,"y":14.52,"e":0.3},{"x":2.035,"y":14.45,"e":0.28},{"x":2.044,"y":14.74,"e":0.22},{"x":2.055,"y":14.43,"e":0.28},{"x":2.065,"y":14.38,"e":0.28},{"x":2.075,"y":14.45,"e":0.3},{"x":2.085,"y":14.46,"e":0.3},{"x":2.097,"y":14.49,"e":0.32},{"x":2.108,"y":14.62,"e":0.3},{"x":2.12,"y":14.56,"e":0.32},{"x":2.132,"y":14.6,"e":0.35},{"x":2.145,"y":14.68,"e":0.4},{"x":2.158,"y":14.82,"e":0.42},{"x":2.167,"y":14.76,"e":0.45},{"x":2.176,"y":14.74,"e":0.55},{"x":2.185,"y":14.7,"e":0.6},{"x":2.194,"y":14.77,"e":0.7},
      {"x":1.63,"y":15.64,"e":0.18},{"x":1.955,"y":15.5,"e":0.44},{"x":1.962,"y":15.62,"e":0.4},{"x":1.97,"y":15.74,"e":0.38},{"x":1.978,"y":15.8,"e":0.36},{"x":1.987,"y":15.86,"e":0.33},{"x":1.995,"y":15.92,"e":0.33},{"x":2.005,"y":15.9,"e":0.3},{"x":2.015,"y":15.98,"e":0.3},{"x":2.025,"y":16.02,"e":0.3},{"x":2.035,"y":15.95,"e":0.28},{"x":2.044,"y":16.24,"e":0.22},{"x":2.055,"y":15.93,"e":0.28},{"x":2.065,"y":15.88,"e":0.28},{"x":2.075,"y":15.95,"e":0.3},{"x":2.085,"y":15.96,"e":0.3},{"x":2.097,"y":15.99,"e":0.32},{"x":2.108,"y":16.12,"e":0.3},{"x":2.12,"y":16.06,"e":0.32},{"x":2.132,"y":16.1,"e":0.35},{"x":2.145,"y":16.18,"e":0.4},{"x":2.158,"y":16.32,"e":0.42},{"x":2.167,"y":16.26,"e":0.45},{"x":2.176,"y":16.24,"e":0.55},{"x":2.185,"y":16.2,"e":0.6},{"x":2.194,"y":16.27,"e":0.7}
    ],
    "labels": [
      {"t":"HD203030B (L7.5, 130-400 Myr)","g":"c","x":1.098,"y":16.76},
      {"t":"VHS1256-12ABb (L7, ABDor cand.)","g":"c","x":1.098,"y":14.83},
      {"t":"HR8799d (Columba)","g":"c","x":1.098,"y":13.32},
      {"t":"HR8799c (Columba)","g":"c","x":1.098,"y":11.8},
      {"t":"2M1207b (TWA)","g":"c","x":1.098,"y":10.33},
      {"t":"ULAS2227 (L7, Dusty)","g":"f","x":1.098,"y":8.79},
      {"t":"WISE1647+56 (L9, Argus cand)","g":"f","x":1.098,"y":7.31},
      {"t":"WISE0047+68 (L7, AB Dor cand)","g":"f","x":1.098,"y":5.8},
      {"t":"PSO318-22 (L7, β Pic cand)","g":"f","x":1.098,"y":4.34},
      {"t":"PSO057+15 (L7, β Pic cand)","g":"f","x":1.098,"y":2.82},
      {"t":"2M1119-11 (L7, TWA cand)","g":"f","x":1.098,"y":1.31}
    ],
    "bands": [
      {"t":"J","x":1.245,"y":17.57},{"t":"H","x":1.613,"y":17.57},{"t":"K1","x":2.103,"y":17.57},{"t":"K2","x":2.236,"y":17.57}
    ],
    "subs": [
      {"t":"IFS","x":1.266,"y":17.52},{"t":"IFS","x":1.641,"y":17.52}
    ]
  },
  "resolve": {"axis": {"x": "independent", "y": "independent"}},
  "layer": [
    {
      "data": {"name": "model"},
      "mark": {"type": "line", "strokeWidth": 1.3, "interpolate": "linear"},
      "encoding": {
        "x": {"field": "x", "type": "quantitative", "scale": {"domain": [1.0, 2.4], "nice": false, "zero": false},
          "axis": {"orient": "bottom", "values": [1,1.05,1.1,1.15,1.2,1.25,1.3,1.35,1.4,1.45,1.5,1.55,1.6,1.65,1.7,1.75,1.8,1.85,1.9,1.95,2,2.05,2.1,2.15,2.2,2.25,2.3,2.35,2.4],
            "tickSize": {"condition": {"test": "abs(datum.value*5-round(datum.value*5))<0.001", "value": -10}, "value": -5},
            "labelExpr": "abs(datum.value*5-round(datum.value*5))<0.001 ? format(datum.value,'.1f') : ''",
            "labelPadding": 17, "labelFontSize": 15, "labelFlush": false, "labelOverlap": false, "labelBound": false,
            "title": "λ (µm)", "titleFontSize": 14, "titlePadding": 2}},
        "y": {"field": "y", "type": "quantitative", "scale": {"domain": [0, 17.5], "nice": false, "zero": false},
          "axis": {"orient": "left", "values": [0,1,2,3,4,5,6,7,8,9,10,11,12,13,14,15,16,17],
            "tickSize": {"condition": {"test": "datum.value % 5 === 0", "value": -10}, "value": -5},
            "labelExpr": "datum.value % 5 === 0 ? datum.label : ''",
            "labelPadding": 17, "labelFontSize": 15, "labelFlush": false, "labelOverlap": false, "labelBound": false,
            "title": "Fλ/Fλ=2-2.2µm + constant", "titleFontSize": 15, "titlePadding": 5}},
        "color": {"field": "g", "type": "nominal", "scale": {"domain": ["c", "f"], "range": ["#2AA3EE", "#C8194F"]}, "legend": null},
        "detail": [{"field": "o"}, {"field": "s"}]
      }
    },
    {
      "data": {"name": "blk"},
      "mark": {"type": "errorbar", "ticks": {"size": 7}, "color": "#2b2b2b", "thickness": 1.3},
      "encoding": {
        "x": {"field": "x", "type": "quantitative", "scale": {"domain": [1.0, 2.4], "nice": false, "zero": false}, "axis": null},
        "y": {"field": "y", "type": "quantitative", "scale": {"domain": [0, 17.5], "nice": false, "zero": false}, "axis": null},
        "yError": {"field": "e"}
      }
    },
    {
      "data": {"name": "blackx"},
      "mark": {"type": "errorbar", "ticks": {"size": 7}, "color": "#2b2b2b", "thickness": 1.3},
      "encoding": {
        "x": {"field": "x", "type": "quantitative", "scale": {"domain": [1.0, 2.4], "nice": false, "zero": false}, "axis": null},
        "xError": {"field": "ex"},
        "y": {"field": "y", "type": "quantitative", "scale": {"domain": [0, 17.5], "nice": false, "zero": false}, "axis": null}
      }
    },
    {
      "data": {"name": "blk"},
      "mark": {"type": "point", "shape": "M-1,0L1,0M0,-1L0,1M-0.72,-0.72L0.72,0.72M-0.72,0.72L0.72,-0.72", "filled": false, "color": "#000000", "strokeWidth": 1.4, "size": 170, "opacity": 1},
      "encoding": {
        "x": {"field": "x", "type": "quantitative", "scale": {"domain": [1.0, 2.4], "nice": false, "zero": false}, "axis": null},
        "y": {"field": "y", "type": "quantitative", "scale": {"domain": [0, 17.5], "nice": false, "zero": false}, "axis": null}
      }
    },
    {
      "data": {"name": "model"},
      "transform": [{"filter": "datum.g == 'c' && datum.x >= 1.94 && datum.x <= 2.2"}],
      "mark": {"type": "line", "color": "#1C2D96", "strokeWidth": 2.6, "point": {"filled": true, "size": 10, "color": "#1C2D96"}},
      "encoding": {
        "x": {"field": "x", "type": "quantitative", "scale": {"domain": [1.0, 2.4], "nice": false, "zero": false},
          "axis": {"orient": "top", "values": [1,1.05,1.1,1.15,1.2,1.25,1.3,1.35,1.4,1.45,1.5,1.55,1.6,1.65,1.7,1.75,1.8,1.85,1.9,1.95,2,2.05,2.1,2.15,2.2,2.25,2.3,2.35,2.4],
            "tickSize": {"condition": {"test": "abs(datum.value*5-round(datum.value*5))<0.001", "value": -10}, "value": -5},
            "labels": false, "title": null}},
        "y": {"field": "y", "type": "quantitative", "scale": {"domain": [0, 17.5], "nice": false, "zero": false},
          "axis": {"orient": "right", "values": [0,1,2,3,4,5,6,7,8,9,10,11,12,13,14,15,16,17],
            "tickSize": {"condition": {"test": "datum.value % 5 === 0", "value": -10}, "value": -5},
            "labels": false, "title": null}},
        "detail": {"field": "o"}
      }
    },
    {
      "data": {"name": "model"},
      "transform": [{"filter": "datum.g == 'f' && datum.x >= 1.94 && datum.x <= 2.2"}],
      "mark": {"type": "line", "color": "#D81A64", "strokeWidth": 3, "point": {"filled": true, "size": 12, "color": "#D81A64"}},
      "encoding": {
        "x": {"field": "x", "type": "quantitative", "scale": {"domain": [1.0, 2.4], "nice": false, "zero": false}, "axis": null},
        "y": {"field": "y", "type": "quantitative", "scale": {"domain": [0, 17.5], "nice": false, "zero": false}, "axis": null},
        "detail": {"field": "o"}
      }
    },
    {
      "data": {"name": "syn"},
      "transform": [{"filter": "datum.g == 'c'"}],
      "mark": {"type": "circle", "color": "#1C2D96", "size": 14, "opacity": 1},
      "encoding": {
        "x": {"field": "x", "type": "quantitative", "scale": {"domain": [1.0, 2.4], "nice": false, "zero": false}, "axis": null},
        "y": {"field": "y", "type": "quantitative", "scale": {"domain": [0, 17.5], "nice": false, "zero": false}, "axis": null}
      }
    },
    {
      "data": {"name": "syn"},
      "transform": [{"filter": "datum.g == 'f'"}],
      "mark": {"type": "circle", "color": "#D81A64", "size": 14, "opacity": 1},
      "encoding": {
        "x": {"field": "x", "type": "quantitative", "scale": {"domain": [1.0, 2.4], "nice": false, "zero": false}, "axis": null},
        "y": {"field": "y", "type": "quantitative", "scale": {"domain": [0, 17.5], "nice": false, "zero": false}, "axis": null}
      }
    },
    {
      "data": {"name": "green"},
      "mark": {"type": "errorbar", "ticks": {"size": 8}, "color": "#7FF21A", "thickness": 1.5},
      "encoding": {
        "x": {"field": "x", "type": "quantitative", "scale": {"domain": [1.0, 2.4], "nice": false, "zero": false}, "axis": null},
        "y": {"field": "y", "type": "quantitative", "scale": {"domain": [0, 17.5], "nice": false, "zero": false}, "axis": null},
        "yError": {"field": "ey"}
      }
    },
    {
      "data": {"name": "green"},
      "mark": {"type": "errorbar", "ticks": {"size": 8}, "color": "#7FF21A", "thickness": 1.5},
      "encoding": {
        "x": {"field": "x", "type": "quantitative", "scale": {"domain": [1.0, 2.4], "nice": false, "zero": false}, "axis": null},
        "xError": {"field": "ex"},
        "y": {"field": "y", "type": "quantitative", "scale": {"domain": [0, 17.5], "nice": false, "zero": false}, "axis": null}
      }
    },
    {
      "data": {"name": "green"},
      "mark": {"type": "point", "shape": "M-1,0L1,0M0,-1L0,1M-0.72,-0.72L0.72,0.72M-0.72,0.72L0.72,-0.72", "filled": false, "color": "#7FF21A", "strokeWidth": 1.6, "size": 210, "opacity": 1},
      "encoding": {
        "x": {"field": "x", "type": "quantitative", "scale": {"domain": [1.0, 2.4], "nice": false, "zero": false}, "axis": null},
        "y": {"field": "y", "type": "quantitative", "scale": {"domain": [0, 17.5], "nice": false, "zero": false}, "axis": null}
      }
    },
    {
      "data": {"name": "labels"},
      "mark": {"type": "text", "align": "left", "baseline": "middle", "fontSize": 11.8},
      "encoding": {
        "x": {"field": "x", "type": "quantitative", "scale": {"domain": [1.0, 2.4], "nice": false, "zero": false}, "axis": null},
        "y": {"field": "y", "type": "quantitative", "scale": {"domain": [0, 17.5], "nice": false, "zero": false}, "axis": null},
        "text": {"field": "t"},
        "color": {"field": "g", "type": "nominal", "legend": null}
      }
    },
    {
      "data": {"name": "bands"},
      "mark": {"type": "text", "align": "left", "baseline": "alphabetic", "fontSize": 15, "color": "#7FF21A"},
      "encoding": {
        "x": {"field": "x", "type": "quantitative", "scale": {"domain": [1.0, 2.4], "nice": false, "zero": false}, "axis": null},
        "y": {"field": "y", "type": "quantitative", "scale": {"domain": [0, 17.5], "nice": false, "zero": false}, "axis": null},
        "text": {"field": "t"}
      }
    },
    {
      "data": {"name": "subs"},
      "mark": {"type": "text", "align": "left", "baseline": "alphabetic", "fontSize": 10, "color": "#7FF21A"},
      "encoding": {
        "x": {"field": "x", "type": "quantitative", "scale": {"domain": [1.0, 2.4], "nice": false, "zero": false}, "axis": null},
        "y": {"field": "y", "type": "quantitative", "scale": {"domain": [0, 17.5], "nice": false, "zero": false}, "axis": null},
        "text": {"field": "t"}
      }
    }
  ]
}
